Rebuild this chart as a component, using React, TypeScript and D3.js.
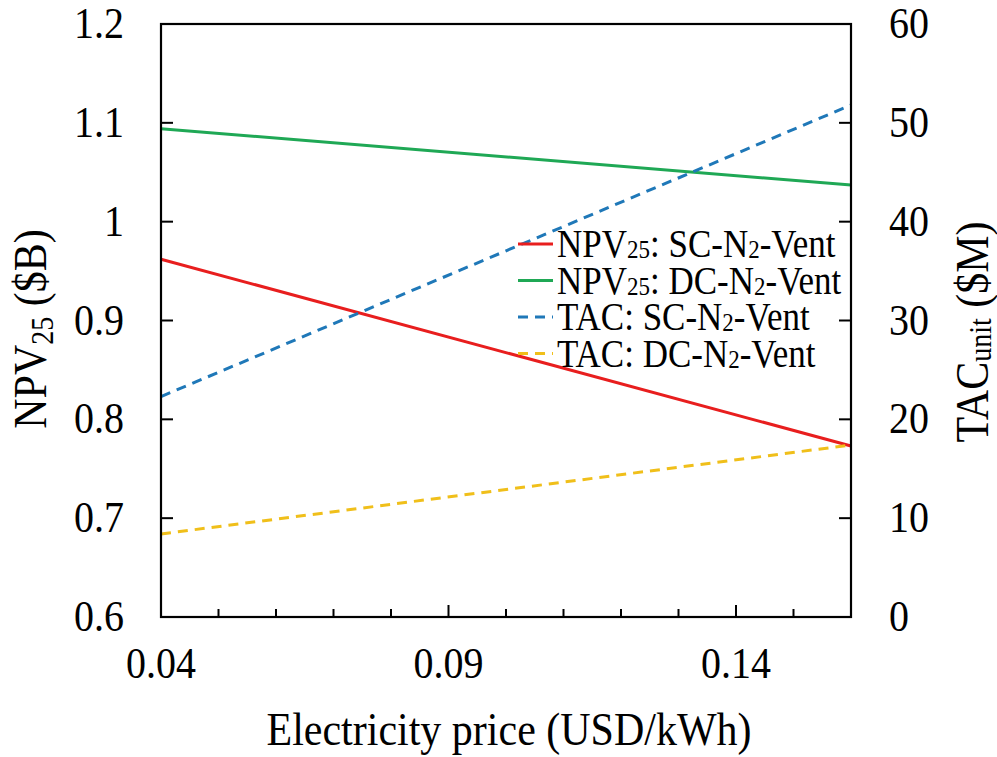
import React from "react";
import * as d3 from "d3";

const prices = [0.04, 0.16];
const npvSC = [0.962, 0.773];
const npvDC = [1.094, 1.037];
const tacSC = [22.3, 51.8];
const tacDC = [8.4, 17.4];

const xMajorTicks = [0.04, 0.09, 0.14];
const xMinorTicks = [0.05, 0.06, 0.07, 0.08, 0.1, 0.11, 0.12, 0.13, 0.15];
const leftTicks = [0.6, 0.7, 0.8, 0.9, 1.0, 1.1, 1.2];
const leftTickLabels = ["0.6", "0.7", "0.8", "0.9", "1", "1.1", "1.2"];
const rightTicks = [0, 10, 20, 30, 40, 50, 60];

const seriesNames = ["SC", "DC", "SC", "DC"];

const W = 997;
const H = 757;
const M = { left: 161, right: 851, top: 24, bottom: 617 };
const FONT = "'Liberation Serif', 'Times New Roman', serif";
const SY = 1.12;

export default function App() {
  const x = d3.scaleLinear().domain([0.04, 0.16]).range([M.left, M.right]);
  const yL = d3.scaleLinear().domain([0.6, 1.2]).range([M.bottom, M.top]);
  const yR = d3.scaleLinear().domain([0, 60]).range([M.bottom, M.top]);

  const lineL = d3
    .line<number>()
    .x((_, i) => x(prices[i]))
    .y((d) => yL(d));
  const lineR = d3
    .line<number>()
    .x((_, i) => x(prices[i]))
    .y((d) => yR(d));

  const series = [
    { d: lineL(npvSC), color: "#e81e1e", dash: undefined, kind: "NPV", name: seriesNames[0] },
    { d: lineL(npvDC), color: "#1fa855", dash: undefined, kind: "NPV", name: seriesNames[1] },
    { d: lineR(tacSC), color: "#1f78b8", dash: "10,7", kind: "TAC", name: seriesNames[2] },
    { d: lineR(tacDC), color: "#f0bf1a", dash: "10,7", kind: "TAC", name: seriesNames[3] },
  ];

  const legX = 518;
  const legY0 = 244;
  const legDy = 36.5;

  const tr = (tx: number, ty: number, rot = 0) =>
    `translate(${tx},${ty})${rot ? ` rotate(${rot})` : ""} scale(1,${SY})`;

  return (
    <svg
      width={W}
      height={H}
      style={{ position: "absolute", left: 0, top: 0, background: "#fff" }}
      fontFamily={FONT}
    >
      <rect x={0} y={0} width={W} height={H} fill="#fff" />
      {series.map((s, i) => (
        <path
          key={i}
          d={s.d || ""}
          fill="none"
          stroke={s.color}
          strokeWidth={3}
          strokeDasharray={s.dash}
        />
      ))}
      <rect
        x={M.left}
        y={M.top}
        width={M.right - M.left}
        height={M.bottom - M.top}
        fill="none"
        stroke="#000"
        strokeWidth={2.2}
      />
      {xMajorTicks.map((t) => (
        <g key={"xM" + t}>
          <line x1={x(t)} x2={x(t)} y1={M.bottom} y2={M.bottom - 12} stroke="#000" strokeWidth={2} />
          <text transform={tr(x(t), 678)} fontSize={40} textAnchor="middle" fill="#000">
            {d3.format(".2f")(t)}
          </text>
        </g>
      ))}
      {xMinorTicks.map((t) => (
        <line key={"xm" + t} x1={x(t)} x2={x(t)} y1={M.bottom} y2={M.bottom - 8} stroke="#000" strokeWidth={2} />
      ))}
      {leftTicks.map((t, i) => (
        <g key={"yl" + t}>
          <line x1={M.left} x2={M.left + 12} y1={yL(t)} y2={yL(t)} stroke="#000" strokeWidth={2} />
          <text transform={tr(124, yL(t) + 14)} fontSize={40} textAnchor="end" fill="#000">
            {leftTickLabels[i]}
          </text>
        </g>
      ))}
      {rightTicks.map((t) => (
        <g key={"yr" + t}>
          <line x1={M.right} x2={M.right - 12} y1={yR(t)} y2={yR(t)} stroke="#000" strokeWidth={2} />
          <text transform={tr(889, yR(t) + 14)} fontSize={40} textAnchor="start" fill="#000">
            {t}
          </text>
        </g>
      ))}
      <text transform={tr(509, 745)} fontSize={42} textAnchor="middle" fill="#000">
        Electricity price (USD/kWh)
      </text>
      <text transform={tr(46, 329, -90)} fontSize={42} textAnchor="middle" fill="#000">
        NPV
        <tspan fontSize={28} dy={6}>25</tspan>
        <tspan dy={-6}> ($B)</tspan>
      </text>
      <text transform={tr(988, 332, -90)} fontSize={42} textAnchor="middle" fill="#000">
        TAC
        <tspan fontSize={28} dy={3}>unit</tspan>
        <tspan dy={-3}> ($M)</tspan>
      </text>
      {series.map((s, i) => {
        const y = legY0 + i * legDy;
        return (
          <g key={"lg" + i}>
            <line
              x1={legX}
              x2={legX + 35}
              y1={y}
              y2={y}
              stroke={s.color}
              strokeWidth={3}
              strokeDasharray={s.dash}
            />
            <text transform={tr(legX + 39, y + 13)} fontSize={35} fill="#000">
              {s.kind}
              {s.kind === "NPV" ? <tspan fontSize={23} dy={1}>25</tspan> : null}
              <tspan dy={s.kind === "NPV" ? -1 : 0}>: {s.name}-N</tspan>
              <tspan fontSize={23} dy={1}>2</tspan>
              <tspan dy={-1}>-Vent</tspan>
            </text>
          </g>
        );
      })}
    </svg>
  );
}
